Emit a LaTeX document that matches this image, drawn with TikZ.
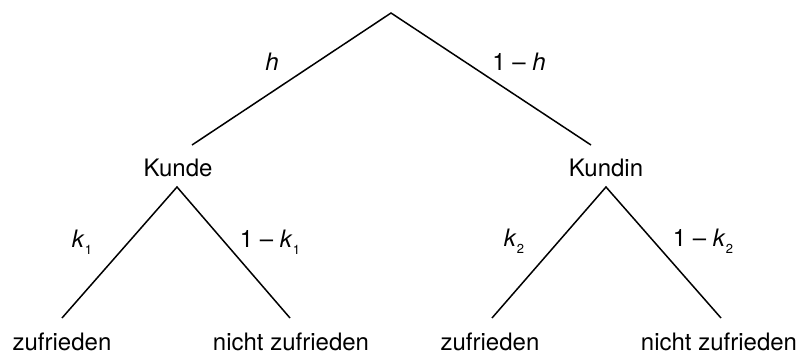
\documentclass[tikz,border=0pt]{standalone}
\usepackage{fontspec}
\setmainfont{TeX Gyre Heros}
\usetikzlibrary{positioning}
\newcommand{\lowsub}[1]{\raisebox{-7.5pt}{\fontsize{13}{13}\selectfont #1}}

\begin{document}
\begin{tikzpicture}[
    x=1pt, y=-1pt,
    state/.style={anchor=base, inner sep=0pt, font=\fontsize{24}{28}\selectfont},
    prob/.style={anchor=base, inner sep=0pt, font=\fontsize{24}{28}\selectfont},
    branch/.style={draw, line width=1.5pt}
]
\useasboundingbox (0,0) rectangle (801,356);

% Wurzel und Verzweigungspunkte
\coordinate (root) at (391,13);
\coordinate (kundeIn) at (192,145);
\coordinate (kundinIn) at (591,145);
\coordinate (kundeOut) at (177,187);
\coordinate (kundinOut) at (606,187);
\coordinate (zuf1In) at (62,318);
\coordinate (nzuf1In) at (290,318);
\coordinate (zuf2In) at (492,318);
\coordinate (nzuf2In) at (721,318);

\node[state] (kunde) at (178,176) {Kunde};
\node[state] (kundin) at (606,176) {Kundin};
\node[state] (zuf1) at (62,350) {zufrieden};
\node[state] (nzuf1) at (291,350) {nicht zufrieden};
\node[state] (zuf2) at (490,350) {zufrieden};
\node[state] (nzuf2) at (719,350) {nicht zufrieden};

\node[prob] (ph) at (272,70) {\textit{h}};
\node[prob] (pnh) at (519,70) {1 -- \textit{h}};
\node[prob] (pk1) at (82,247) {\textit{k}\lowsub{1}};
\node[prob] (pnk1) at (270,247) {1 -- \textit{k}\lowsub{1}};
\node[prob] (pk2) at (514,246) {\textit{k}\lowsub{2}};
\node[prob] (pnk2) at (703,246) {1 -- \textit{k}\lowsub{2}};

\draw[branch] (kundeIn) -- (root) -- (kundinIn);
\draw[branch] (zuf1In) -- (kundeOut) -- (nzuf1In);
\draw[branch] (zuf2In) -- (kundinOut) -- (nzuf2In);
\end{tikzpicture}
\end{document}
